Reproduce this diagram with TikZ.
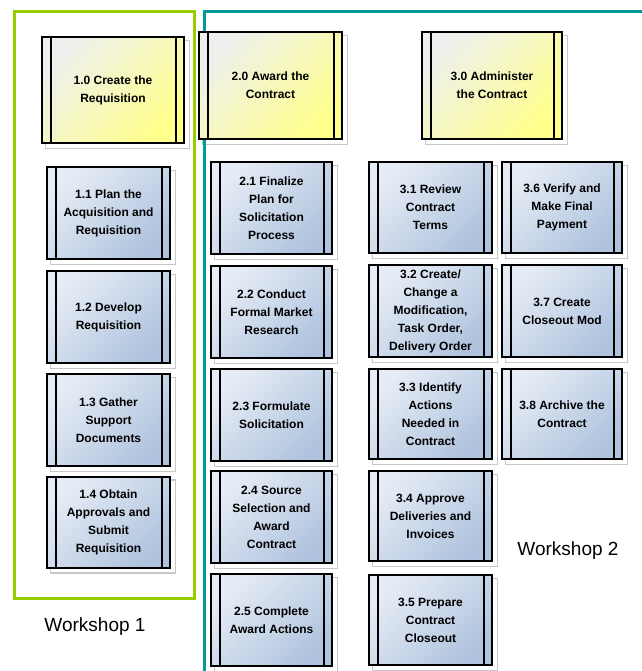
\documentclass[tikz,border=0pt]{standalone}
\usepackage{fontspec}
\setmainfont{Liberation Sans}
\usetikzlibrary{backgrounds}
\definecolor{taskL}{HTML}{E6ECF5}
\definecolor{taskD}{HTML}{AFC3DE}
\definecolor{phaseL}{HTML}{EEF0EE}
\definecolor{phaseD}{HTML}{FFFF8C}
\definecolor{shadowgray}{HTML}{C8C8C8}
\definecolor{wsgreen}{HTML}{99CC00}
\definecolor{wsteal}{HTML}{009B9B}
\begin{document}
\begin{tikzpicture}[x=1pt,y=-1pt,
  proc/.style={draw=black, line width=2pt, inner sep=0pt, align=center,
    font=\bfseries\fontsize{12}{18}\selectfont},
  task/.style={proc, top color=taskL, bottom color=taskD, shading angle=45},
  phase/.style={proc, top color=phaseL, bottom color=phaseD, shading angle=45},
  shadowline/.style={draw=shadowgray, line width=1.5pt},
  stripe/.style={draw=black, line width=2pt},
  frame/.style={line width=3.5pt},
  wslabel/.style={font=\fontsize{19}{19}\selectfont, inner sep=0pt, anchor=base}]
\useasboundingbox (0,0) rectangle (641,671);

% process box: name, style, centre x, centre y, width, height, text
\newcommand\procbox[7]{%
  \node[#2, minimum width=#5pt, minimum height=#6pt] (#1) at (#3,#4) {#7};
  \draw[stripe] ([xshift=10pt]#1.north west) -- ([xshift=10pt]#1.south west);
  \draw[stripe] ([xshift=-9pt]#1.north east) -- ([xshift=-9pt]#1.south east);
  \begin{pgfonlayer}{background}
    \draw[shadowline] ([shift={(4.5,4.5)}]#1.north west) rectangle ([shift={(4.5,4.5)}]#1.south east);
  \end{pgfonlayer}}

% workshop frames
\draw[frame, wsgreen] (14.5,11.5) rectangle (194.5,598.5);
\draw[frame, wsteal] (204.5,690) |- (660,11.5);

% phases
\procbox{p1}{phase}{113}{90}{142}{106}{1.0 Create the\\Requisition}
\procbox{p2}{phase}{270.5}{85.5}{143}{107}{2.0 Award the\\Contract}
\procbox{p3}{phase}{492}{85.5}{140}{107}{3.0 Administer\\the Contract}

% phase 1 tasks
\procbox{t11}{task}{108.5}{213}{123}{92}{1.1 Plan the\\Acquisition and\\Requisition}
\procbox{t12}{task}{108.5}{317}{123}{92}{1.2 Develop\\Requisition}
\procbox{t13}{task}{108.5}{420}{123}{92}{1.3 Gather\\Support\\Documents}
\procbox{t14}{task}{108.5}{522}{123}{91}{1.4 Obtain\\Approvals and\\Submit\\Requisition}

% phase 2 tasks
\procbox{t21}{task}{271.5}{208}{121}{92}{2.1 Finalize\\Plan for\\Solicitation\\Process}
\procbox{t22}{task}{271.5}{312}{121}{92}{2.2 Conduct\\Formal Market\\Research}
\procbox{t23}{task}{271.5}{415}{121}{92}{2.3 Formulate\\Solicitation}
\procbox{t24}{task}{271.5}{517}{121}{92}{2.4 Source\\Selection and\\Award\\Contract}
\procbox{t25}{task}{271.5}{620}{121}{92}{2.5 Complete\\Award Actions}

% phase 3 tasks
\procbox{t31}{task}{430.5}{207.5}{123}{91}{3.1 Review\\Contract\\Terms}
\procbox{t32}{task}{430.5}{311}{123}{92}{3.2 Create/\\Change a\\Modification,\\Task Order,\\Delivery Order}
\procbox{t33}{task}{430.5}{414}{123}{90}{3.3 Identify\\Actions\\Needed in\\Contract}
\procbox{t34}{task}{430.5}{516}{123}{90}{3.4 Approve\\Deliveries and\\Invoices}
\procbox{t35}{task}{430.5}{620}{123}{90}{3.5 Prepare\\Contract\\Closeout}
\procbox{t36}{task}{562}{207.5}{120}{91}{3.6 Verify and\\Make Final\\Payment}
\procbox{t37}{task}{562}{311}{120}{92}{3.7 Create\\Closeout Mod}
\procbox{t38}{task}{562}{414}{120}{90}{3.8 Archive the\\Contract}

% workshop labels
\node[wslabel] (ws1) at (95,631) {Workshop 1};
\node[wslabel] (ws2) at (568,555) {Workshop 2};
\end{tikzpicture}
\end{document}
